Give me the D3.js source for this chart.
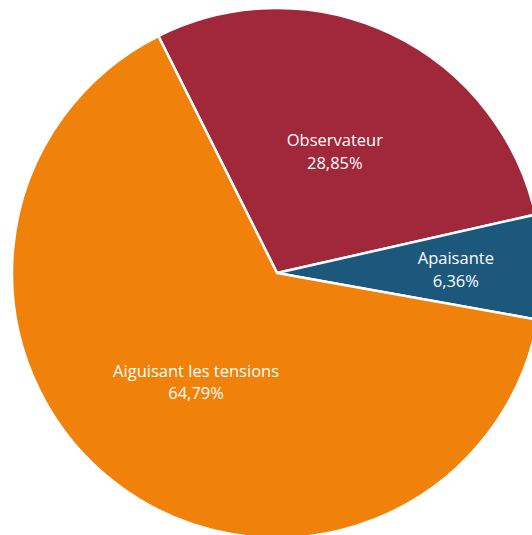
<!DOCTYPE html>
<html>
<head>
<meta charset="utf-8">
<script src="https://cdn.jsdelivr.net/npm/d3@7"></script>
<style>
  html, body { margin: 0; padding: 0; background: #fff; overflow: hidden; }
  svg { display: block; }
</style>
</head>
<body>
<svg class="chart-svg"></svg>
<script>
const categories = ["Observateur", "Apaisante", "Aiguisant les tensions"];
const values = [28.85, 6.36, 64.79];
const colors = ["#A1283A", "#1C587C", "#F0810A"];

const width = 532, height = 535;
const cx = 277, cy = 273, radius = 265;
// where each label sits, as a fraction of the radius
const labelPos = [0.51, 0.675, 0.51];

const svg = d3.select(".chart-svg")
    .attr("width", width)
    .attr("height", height);

const pie = d3.pie()
    .sort(null)
    .value(d => d)
    .startAngle(-26.6 * Math.PI / 180)
    .endAngle((360 - 26.6) * Math.PI / 180);

const arcs = pie(values);

const arc = d3.arc().innerRadius(0).outerRadius(radius);

const g = svg.append("g")
    .attr("transform", `translate(${cx},${cy})`);

g.selectAll("path")
    .data(arcs)
    .join("path")
    .attr("fill", (d, i) => colors[i])
    .attr("stroke", "white")
    .attr("stroke-width", 2.5)
    .attr("stroke-linejoin", "round")
    .attr("d", arc);

const fmt = v => v.toFixed(2).replace(".", ",") + "%";

const labels = g.selectAll("text")
    .data(arcs)
    .join("text")
    .attr("transform", (d, i) => {
        const a = (d.startAngle + d.endAngle) / 2;
        const r = radius * labelPos[i];
        return `translate(${Math.sin(a) * r},${-Math.cos(a) * r})`;
    })
    .attr("text-anchor", "middle")
    .attr("fill", "white")
    .style("font-family", "'Open Sans', sans-serif")
    .style("font-size", "16.5px");

labels.append("tspan")
    .attr("x", 0)
    .attr("dy", -4.5)
    .text((d, i) => categories[i]);

labels.append("tspan")
    .attr("x", 0)
    .attr("dy", 22.5)
    .text(d => fmt(d.data));
</script>
</body>
</html>
